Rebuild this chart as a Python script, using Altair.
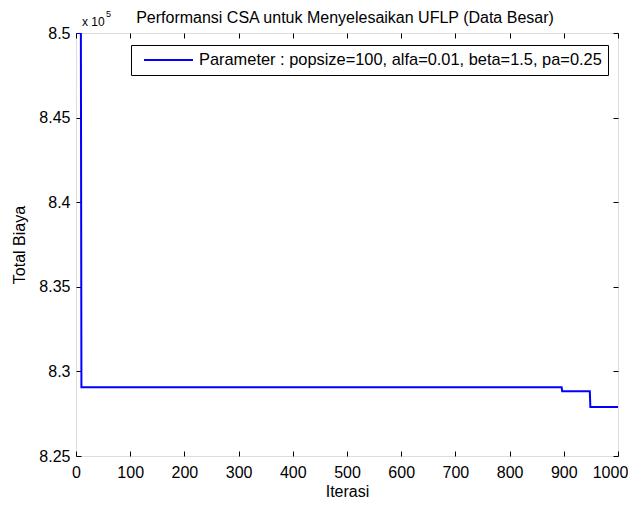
import altair as alt
import pandas as pd

# Data
iterasi = [1, 9, 10, 896, 897, 948, 949, 1000]
total_biaya = [850000, 850000, 829060, 829060, 828830, 828830, 827890, 827890]
series_name = "Parameter : popsize=100, alfa=0.01, beta=1.5, pa=0.25"
chart_title = "Performansi CSA untuk Menyelesaikan UFLP (Data Besar)"

x_ticks = [0, 100, 200, 300, 400, 500, 600, 700, 800, 900, 1000]
y_ticks = [825000, 830000, 835000, 840000, 845000, 850000]

df = pd.DataFrame({"Iterasi": iterasi, "Total": total_biaya, "series": [series_name] * len(iterasi)})

FONT = "Liberation Sans"
TICK = 5
W, H = 542, 423

xscale = alt.Scale(domain=[0, 1000], nice=False, zero=False)
yscale = alt.Scale(domain=[825000, 850000], nice=False, zero=False)

base = alt.Chart(df)

line = base.mark_line(strokeWidth=2, clip=True).encode(
    x=alt.X("Iterasi:Q", scale=xscale,
            axis=alt.Axis(orient="bottom", values=x_ticks, format="d", title="Iterasi", grid=False,
                          domain=False, tickSize=TICK, offset=-TICK, tickColor="black",
                          labelColor="black", labelFont=FONT, labelFontSize=16, labelPadding=8,
                          labelFlush=False,
                          labelOffset={"condition": {"test": "datum.value == 1000", "value": -8}, "value": 0},
                          titleFont=FONT, titleFontSize=16, titleFontWeight="normal",
                          titleColor="black", titleBaseline="alphabetic", titleY=45)),
    y=alt.Y("Total:Q", scale=yscale,
            axis=alt.Axis(orient="left", values=y_ticks, title="Total Biaya", grid=False, domain=False,
                          tickSize=TICK, offset=-TICK, tickColor="black", labelColor="black",
                          labelFont=FONT, labelFontSize=16, labelPadding=6, labelFlush=False,
                          labelExpr="format(datum.value/100000, '.3~f')",
                          titleFont=FONT, titleFontSize=16, titleFontWeight="normal",
                          titleColor="black", titlePadding=11)),
    color=alt.Color("series:N", scale=alt.Scale(domain=[series_name], range=["#0000ff"]),
                    legend=alt.Legend(title=None, orient="none", legendX=55, legendY=12,
                                      strokeColor="black", fillColor="white", padding=6,
                                      symbolType="M-3.0625,0L3.0625,0", symbolSize=256,
                                      symbolStrokeWidth=2, symbolFillColor="transparent",
                                      symbolOffset=22.5, labelOffset=21.5,
                                      labelFont=FONT, labelFontSize=16.4, labelColor="black",
                                      labelLimit=700, cornerRadius=0)),
)

mirror = base.mark_point(opacity=0).encode(
    x=alt.X("Iterasi:Q", scale=xscale,
            axis=alt.Axis(orient="top", values=x_ticks, title=None, labels=False, grid=False,
                          domain=False, tickSize=TICK, offset=-TICK, tickColor="black")),
    y=alt.Y("Total:Q", scale=yscale,
            axis=alt.Axis(orient="right", values=y_ticks, title=None, labels=False, grid=False,
                          domain=False, tickSize=TICK, offset=-TICK, tickColor="black")),
)

title_txt = alt.Chart(pd.DataFrame({"t": [chart_title]})).mark_text(
    font=FONT, fontSize=16, align="center", baseline="alphabetic", color="black"
).encode(x=alt.value(W / 2 - 2), y=alt.value(-10), text="t:N")

mult = alt.Chart(pd.DataFrame({"t": ["x 10"]})).mark_text(
    font=FONT, fontSize=12, align="left", baseline="alphabetic", color="black"
).encode(x=alt.value(6), y=alt.value(-7), text="t:N")

sup = alt.Chart(pd.DataFrame({"t": ["5"]})).mark_text(
    font=FONT, fontSize=9, align="left", baseline="alphabetic", color="black"
).encode(x=alt.value(30), y=alt.value(-16), text="t:N")

chart = alt.layer(line, mirror, title_txt, mult, sup).resolve_axis(
    x="independent", y="independent"
).properties(
    width=W,
    height=H,
    autosize=alt.AutoSizeParams(type="none"),
    padding={"left": 68, "top": 25, "right": 10, "bottom": 44},
).configure_view(stroke="black", strokeWidth=1).configure(background="white")

chart.save("out.html", embed_options={"renderer": "svg", "actions": False})
